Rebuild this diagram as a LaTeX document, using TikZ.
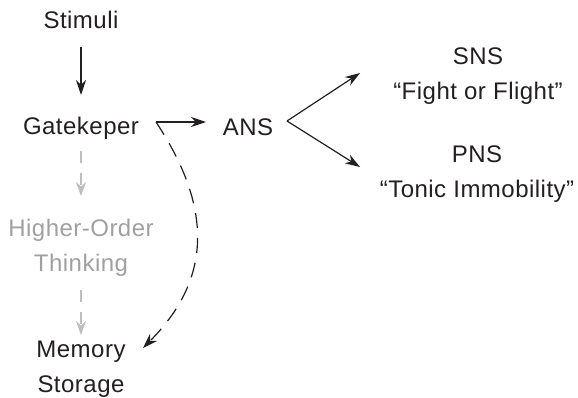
\documentclass[tikz,border=0pt]{standalone}
\usepackage{fontspec}
\setmainfont{Liberation Sans}[LetterSpace=2]
\usetikzlibrary{arrows.meta,calc}
\definecolor{ink}{HTML}{231F20}
\definecolor{greytext}{HTML}{A0A0A0}
\definecolor{greyline}{HTML}{BEBEBE}
\begin{document}
\begin{tikzpicture}[x=1pt,y=-1pt,
  lbl/.style={font=\fontsize{24}{35}\selectfont, align=center, inner sep=0pt, text=ink, anchor=base},
  arr/.style={draw=ink, line width=1.2pt, -{Stealth[length=15pt,width=10pt]}},
  dasharr/.style={arr, dash pattern=on 15pt off 10pt},
  greyarr/.style={draw=greyline, line width=1.2pt, dash pattern=on 12pt off 10pt, -{Stealth[length=14pt,width=10pt]}}]
\useasboundingbox (0,0) rectangle (578,398);
\node[lbl] (stim) at (81,29) {Stimuli};
\node[lbl] (gate) at (81,135) {Gatekeper};
\node[lbl] (ans) at (248,136) {ANS};
\node[lbl] (sns) at (478,100) {SNS\\“Fight or Flight”};
\node[lbl] (pns) at (477,197) {PNS\\“Tonic Immobility”};
\node[lbl,text=greytext] (hot) at (81,271) {Higher-Order\\Thinking};
\node[lbl] (mem) at (81,392) {Memory\\Storage};
\draw[arr] ($(stim.base)+(0,18)$) -- ($(gate.base)+(0,-40)$);
\draw[arr] ($(gate.base)+(75,-13)$) -- ($(ans.base)+(-42,-14)$);
\draw[arr] ($(ans.base)+(39,-15)$) -- ($(sns.base)+(-118,-27)$);
\draw[arr] ($(ans.base)+(39,-15)$) -- ($(pns.base)+(-117,-30)$);
\draw[dasharr] ($(gate.base)+(75,-13)$) .. controls ($(gate.base)+(130,70)$) and ($(gate.base)+(133,142)$) .. ($(mem.base)+(62,-44)$);
\draw[greyarr] ($(gate.base)+(0,16)$) -- ($(hot.base)+(0,-75)$);
\draw[greyarr] ($(hot.base)+(0,19)$) -- ($(mem.base)+(0,-57)$);
\end{tikzpicture}
\end{document}
